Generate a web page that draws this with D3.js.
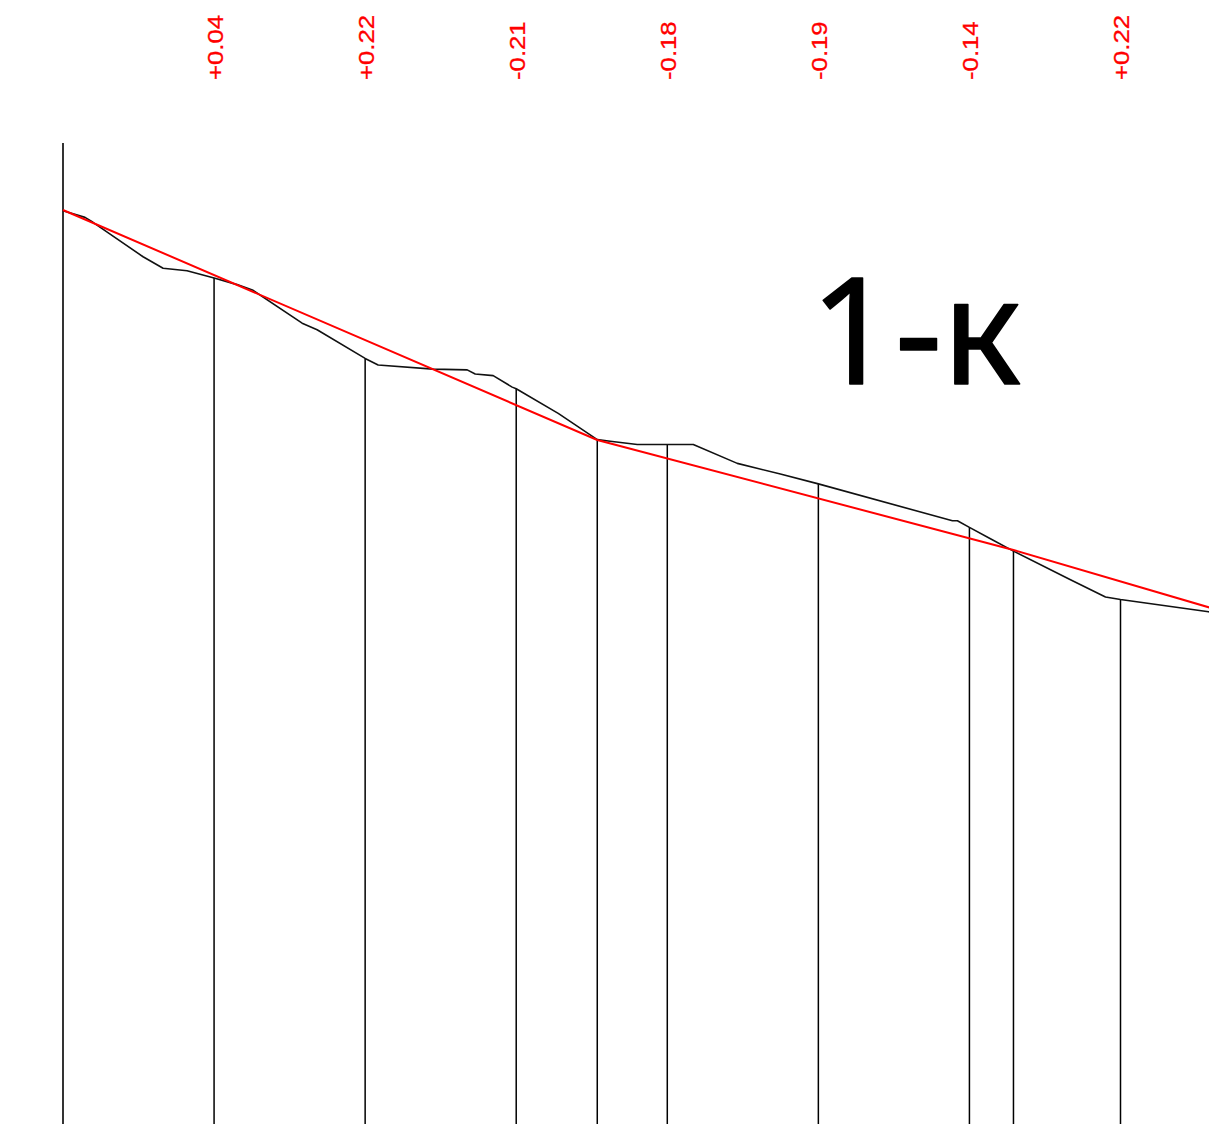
<!DOCTYPE html>
<html>
<head>
<meta charset="utf-8">
<script src="https://cdn.jsdelivr.net/npm/d3@7"></script>
<style>
  html, body { margin: 0; padding: 0; background: #fff; }
  svg { display: block; }
</style>
</head>
<body>
<svg id="chart" width="1209" height="1124"></svg>
<script>
// Chainage (m) of the terrain (ground) profile points and their elevations (m)
const terrainDist = [0, 2.91, 3.97, 10.60, 13.25, 16.42, 20.00, 23.05, 25.17, 31.66, 33.64, 40.00, 41.72, 49.01, 53.51, 54.57, 56.95, 59.47, 60.00, 65.56, 70.73, 72.45, 76.03, 83.44, 89.27, 94.97, 100.00, 117.75, 118.41, 120.00, 122.78, 125.83, 133.38, 138.01, 140.00, 151.66, 152.00];
const terrainElev = [119.99, 119.91, 119.85, 119.43, 119.29, 119.26, 119.17, 119.09, 119.02, 118.62, 118.54, 118.19, 118.11, 118.06, 118.05, 118.00, 117.98, 117.84, 117.82, 117.52, 117.20, 117.18, 117.14, 117.14, 116.91, 116.78, 116.66, 116.21, 116.21, 116.13, 115.99, 115.84, 115.49, 115.28, 115.25, 115.10, 115.09];

// Design (red) grade line break points
const designDist = [0, 70.73, 125.83, 152.00];
const designElev = [120.00, 117.195, 115.854, 115.146];

// Stations with labels (design minus ground)
const stationDist = [20, 40, 60, 80, 100, 120, 140];
const stationLabels = ["+0.04", "+0.22", "-0.21", "-0.18", "-0.19", "-0.14", "+0.22"];

// Extra ordinates at grade breaks
const breakDist = [70.73, 125.83];

const title = "1-к";

const svg = d3.select("#chart");
const x = d3.scaleLinear().domain([0, 140]).range([63, 1120.5]);
const y = d3.scaleLinear().domain([110, 120]).range([1030, 210]);
const bottomElev = y.invert(1124);
const axisTopElev = y.invert(143);

const terrain = terrainDist.map((d, i) => [d, terrainElev[i]]);
const design = designDist.map((d, i) => [d, designElev[i]]);
const groundAt = d => {
  const i = d3.bisectLeft(terrainDist, d);
  if (terrainDist[i] === d) return terrainElev[i];
  const t = (d - terrainDist[i - 1]) / (terrainDist[i] - terrainDist[i - 1]);
  return terrainElev[i - 1] + t * (terrainElev[i] - terrainElev[i - 1]);
};

// Left axis line
svg.append("line")
  .attr("x1", x(0)).attr("x2", x(0))
  .attr("y1", y(axisTopElev)).attr("y2", y(bottomElev))
  .attr("stroke", "#000").attr("stroke-width", 1.6);

// Ordinates
const ords = stationDist.concat(breakDist).sort((a, b) => a - b);
svg.selectAll("line.ord").data(ords).enter().append("line")
  .attr("class", "ord")
  .attr("x1", d => x(d)).attr("x2", d => x(d))
  .attr("y1", d => y(groundAt(d))).attr("y2", y(bottomElev))
  .attr("stroke", "#000").attr("stroke-width", 1.5);

const line = d3.line().x(d => x(d[0])).y(d => y(d[1]));

svg.append("path").datum(terrain)
  .attr("d", line).attr("fill", "none")
  .attr("stroke", "#111").attr("stroke-width", 1.6)
  .attr("stroke-linejoin", "round");

svg.append("path").datum(design)
  .attr("d", line).attr("fill", "none")
  .attr("stroke", "#ff0000").attr("stroke-width", 2);

// Station labels
svg.selectAll("text.lab").data(stationDist).enter().append("text")
  .attr("class", "lab")
  .attr("transform", d => `translate(${x(d) + 8.5},80) rotate(-90) scale(1.17,1)`)
  .attr("font-family", "Liberation Sans, Arial, sans-serif")
  .attr("font-size", 22)
  .attr("fill", "#ff0000")
  .attr("stroke", "#ff0000")
  .attr("stroke-width", 0.3)
  .text((d, i) => stationLabels[i]);

// Title
svg.append("text")
  .attr("x", 810).attr("y", 384)
  .attr("font-family", "Noto Sans, sans-serif")
  .attr("font-size", 148)
  .attr("fill", "#000")
  .attr("stroke", "#000")
  .attr("stroke-width", 1.5)
  .attr("stroke-linejoin", "round")
  .text(title);
</script>
</body>
</html>
